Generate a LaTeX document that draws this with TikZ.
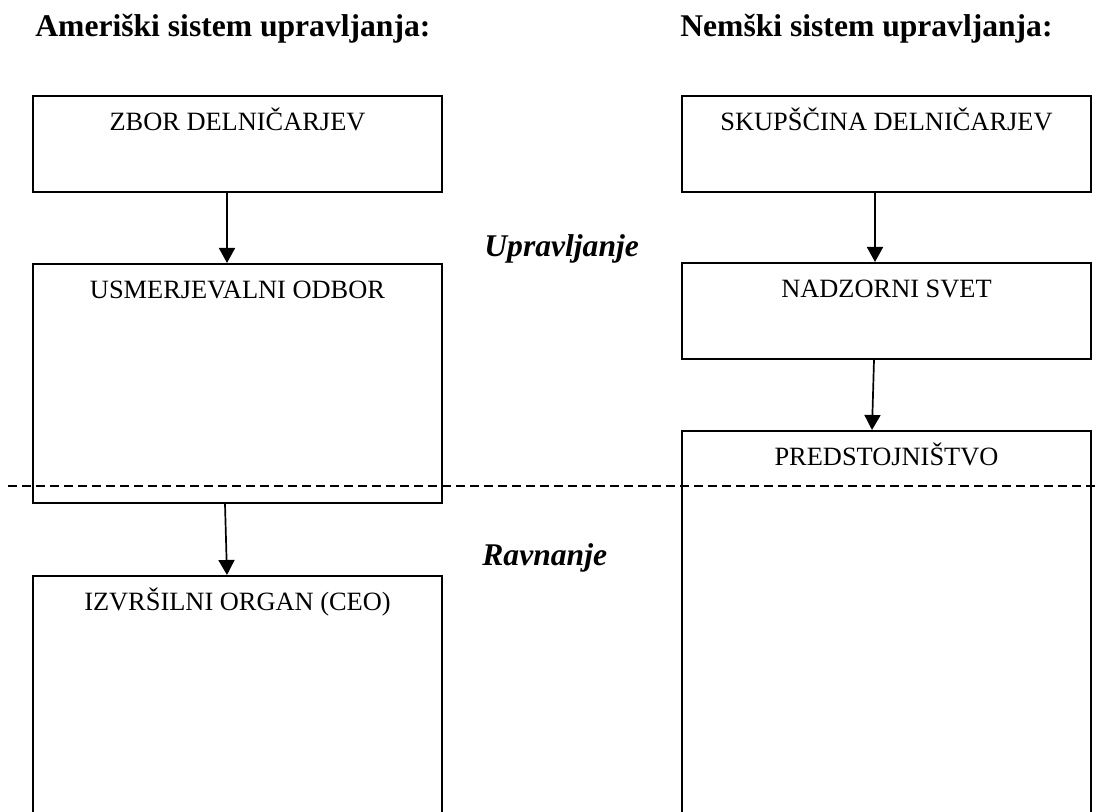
\documentclass[tikz,border=0pt]{standalone}
\usepackage{fontspec}
\setmainfont{Liberation Serif}
\usetikzlibrary{arrows.meta}

\tikzset{
organ/.style={draw, line width=1pt, minimum width=204.5pt, inner sep=0pt},
napis/.style={anchor=base, yshift=-18pt, inner sep=0pt, font=\fontsize{13.2}{15}\selectfont},
naslov/.style={anchor=base west, inner sep=0pt, font=\fontsize{15.8}{18}\selectfont\bfseries},
raven/.style={anchor=base west, inner sep=0pt, font=\fontsize{15.8}{18}\selectfont\bfseries\itshape},
puscica/.style={line width=0.85pt, -{Triangle[length=7.5pt,width=8pt]}}
}

\begin{document}
\begin{tikzpicture}[x=0.5pt,y=-0.5pt]

\useasboundingbox (0,0) rectangle (1099,812);
\clip (0,0) rectangle (1099,812);

\node[naslov] (amer) at (35,37) {Ameriški sistem upravljanja:};
\node[naslov] (nem) at (680,37) {Nemški sistem upravljanja:};

\node[organ, minimum height=48pt, label={[napis]north:ZBOR DELNIČARJEV}] (zbor) at (237.5,144) {};
\node[organ, minimum height=119.5pt, label={[napis]north:USMERJEVALNI ODBOR}] (usmer) at (237.5,383.5) {};
\node[organ, minimum height=162pt, label={[napis]north:IZVRŠILNI ORGAN (CEO)}] (izvrs) at (237.5,738) {};

\node[organ, minimum height=48pt, label={[napis]north:SKUPŠČINA DELNIČARJEV}] (skup) at (886.5,144) {};
\node[organ, minimum height=48pt, label={[napis]north:NADZORNI SVET}] (nadz) at (886.5,311) {};
\node[organ, minimum height=234.5pt, label={[napis]north:PREDSTOJNIŠTVO}] (pred) at (886.5,665.5) {};

\draw[puscica] ([xshift=-5.25pt]zbor.south) -- ([xshift=-5.25pt]usmer.north);
\draw[puscica] ([xshift=-6.25pt]usmer.south) -- ([xshift=-5.25pt]izvrs.north);
\draw[puscica] ([xshift=-5.75pt]skup.south) -- ([xshift=-5.75pt]nadz.north);
\draw[puscica] ([xshift=-6.25pt]nadz.south) -- ([xshift=-7.25pt]pred.north);

\draw[line width=0.9pt, dash pattern=on 4.5pt off 2.5pt] (8,486) -- (1099,486);

\node[raven] (uprav) at (484,257) {Upravljanje};
\node[raven] (ravn) at (482,566) {Ravnanje};

\end{tikzpicture}
\end{document}
